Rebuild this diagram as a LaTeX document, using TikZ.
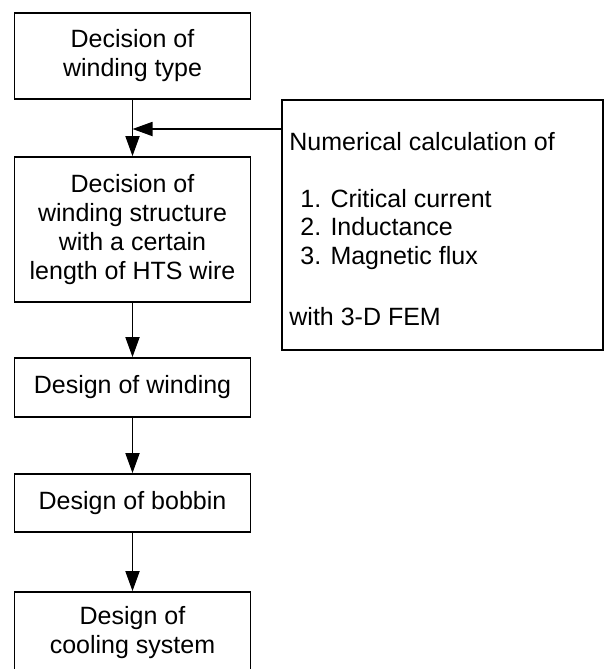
\documentclass[tikz,border=0pt]{standalone}
\usepackage{fontspec}
\setmainfont{Liberation Sans}
\usetikzlibrary{arrows.meta}

\tikzset{
	stepbox/.style={draw, line width=0.9pt, align=center, inner sep=0pt,
		minimum width=118pt, font=\fontsize{12.5}{14.5}\selectfont},
	flow/.style={->, line width=0.9pt},
	calctext/.style={anchor=base west, inner sep=0pt, font=\fontsize{12.5}{14.5}\selectfont}
}

\begin{document}
\begin{tikzpicture}[x=0.5pt, y=-0.5pt, >={Triangle[length=10pt,width=7pt]}]
	\useasboundingbox (0,0) rectangle (605,669);

	%% Design steps
	\node [stepbox, minimum height=43pt] (type) at (132.5,56) {Decision of\\winding type};
	\node [stepbox, minimum height=72.5pt] (structure) at (132.5,229.5) {Decision of\\winding structure\\with a certain\\length of HTS wire};
	\node [stepbox, minimum height=29.5pt] (winding) at (132.5,387.5) {Design of winding};
	\node [stepbox, minimum height=29pt] (bobbin) at (132.5,503) {Design of bobbin};
	\node [stepbox, minimum height=41pt] (cooling) at (132.5,633) {Design of\\cooling system};

	%% Numerical calculation
	\node [draw, line width=0.9pt, inner sep=0pt, minimum width=160.5pt, minimum height=125pt] (calc) at (442.5,225) {};
	\node [calctext] (calchead) at (289,150) {Numerical calculation of};
	\foreach \i/\txt/\y in {1/Critical current/207, 2/Inductance/235, 3/Magnetic flux/264} {
		\node [calctext] (item\i) at (300,\y) {\i. \txt};
	}
	\node [calctext] (calcfem) at (289,325) {with 3-D FEM};

	%% Connectors
	\coordinate (join) at (132.5,129);
	\draw [flow] (type) -- (structure);
	\draw [flow] (calc.west |- join) -- (join);
	\draw [flow] (structure) -- (winding);
	\draw [flow] (winding) -- (bobbin);
	\draw [flow] (bobbin) -- (cooling);
\end{tikzpicture}
\end{document}
